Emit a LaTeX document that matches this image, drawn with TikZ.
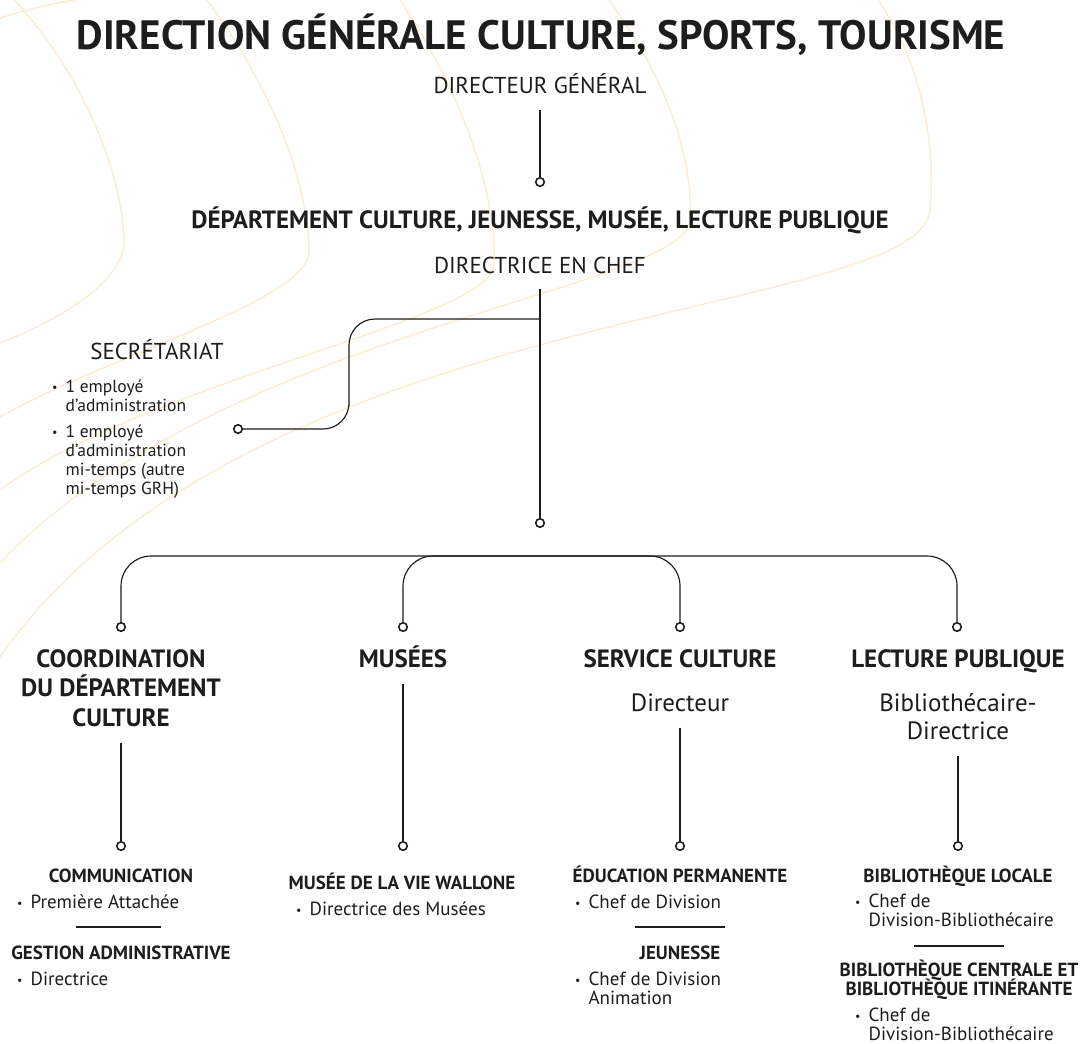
\documentclass[tikz,border=0pt]{standalone}
\usepackage{fontspec}
\setmainfont{PT Sans}
\usetikzlibrary{positioning}

\definecolor{encre}{HTML}{1D1D1B}
\definecolor{filigrane}{HTML}{FCECCF}

\newcommand{\puce}{\raisebox{0.5pt}{\fontsize{12}{12}\selectfont •}}
\newcommand{\serre}{\setlength{\lineskiplimit}{-20pt}}

\tikzset{
  titre/.style={font=\bfseries\fontsize{41}{44}\selectfont, text=encre, inner sep=0pt},
  poste/.style={font=\fontsize{23}{26}\selectfont, text=encre, inner sep=0pt},
  dept/.style={font=\bfseries\fontsize{25}{28}\selectfont, text=encre, inner sep=0pt},
  service/.style={font=\bfseries\fontsize{25}{29.5}\selectfont, text=encre, align=center, inner sep=0pt},
  fonction/.style={font=\fontsize{25}{28}\selectfont, text=encre, align=center, inner sep=0pt},
  soustitre/.style={font=\bfseries\fontsize{19}{19}\selectfont\serre, text=encre, align=center, inner sep=0pt},
  liste/.style={font=\fontsize{19}{18.5}\selectfont, text=encre, inner sep=0pt, anchor=base west},
  listesec/.style={liste, font=\fontsize{17.5}{19}\selectfont},
  pastille/.style={circle, draw=encre, line width=1.6pt, fill=white, minimum size=8.5pt, inner sep=0pt},
  lien/.style={draw=encre, line width=1.15pt},
  depart/.style={shorten <=16pt},
  filet/.style={draw=encre, line width=2.8pt},
}

\begin{document}
\begin{tikzpicture}[x=1pt, y=-1pt]
    \fill[white] (0,0) rectangle (1083,1043);
    \useasboundingbox (0,0) rectangle (1083,1043);

    % filigrane du fond
    \begin{scope}
      \clip (0,0) rectangle (1083,1043);
      \draw[filigrane, line width=1.3pt] (0,18) .. controls (25,10) and (50,4) .. (75,0);
      \draw[filigrane, line width=1.3pt] (14,0) .. controls (80,70) and (122,170) .. (124,240)
        .. controls (126,280) and (60,320) .. (0,343);
      \draw[filigrane, line width=1.3pt] (207,0) .. controls (265,80) and (307,170) .. (309,250)
        .. controls (311,300) and (120,350) .. (0,417);
      \draw[filigrane, line width=1.3pt] (400,0) .. controls (460,90) and (497,190) .. (494,265)
        .. controls (490,320) and (150,380) .. (0,490);
      \draw[filigrane, line width=1.3pt] (609,0) .. controls (660,70) and (694,150) .. (690,220)
        .. controls (686,290) and (220,330) .. (0,563);
      \draw[filigrane, line width=1.3pt] (878,0) .. controls (920,60) and (936,140) .. (930,210)
        .. controls (920,320) and (250,300) .. (0,657);
    \end{scope}

    % haut de l'organigramme
    \node[titre, anchor=base] (titre) at (541,50) {DIRECTION GÉNÉRALE CULTURE, SPORTS, TOURISME};
    \node[poste, anchor=base] (dg) at (540,94) {DIRECTEUR GÉNÉRAL};
    \node[pastille] (dg-pt) at (540,182) {};
    \draw[lien, depart] (dg) -- (dg-pt);

    \node[dept, anchor=base] (dep) at (540,228) {DÉPARTEMENT CULTURE, JEUNESSE, MUSÉE, LECTURE PUBLIQUE};
    \node[poste, anchor=base] (dec) at (540,273) {DIRECTRICE EN CHEF};
    \node[pastille] (dec-pt) at (540,523) {};
    \draw[lien, depart] (dec) -- (dec-pt);

    % secretariat
    \node[poste, anchor=base] (sec) at (157,359) {SECRÉTARIAT};
    \node[listesec] (sec-liste) at (52,392) {\begin{tabular}[t]{@{}l@{\hspace{8pt}}l@{}}
      \puce & 1 employé\\
            & d’administration\\[7pt]
      \puce & 1 employé\\
            & d’administration\\
            & mi-temps (autre\\
            & mi-temps GRH)
    \end{tabular}};
    \node[pastille] (sec-pt) at (238,429) {};
    \coordinate (embr) at (540,319);
    \coordinate (coude) at (349,380);
    \draw[lien, rounded corners=26pt] (embr) -| (coude) |- (sec-pt);

    % barre des quatre services
    \coordinate (barre) at (540,556);
    \node[pastille] (c1-pt) at (121,627) {};
    \node[pastille] (c2-pt) at (403,627) {};
    \node[pastille] (c3-pt) at (680,627) {};
    \node[pastille] (c4-pt) at (957,627) {};
    \draw[lien, rounded corners=30pt] (c1-pt) |- (barre) -| (c4-pt);
    \draw[lien, rounded corners=30pt] (c2-pt) |- (barre);
    \draw[lien, rounded corners=30pt] (c3-pt) |- (barre);

    % services
    \node[service] (coord) at (121,688) {COORDINATION\\DU DÉPARTEMENT\\CULTURE};
    \node[service, anchor=base] (musees) at (403,667) {MUSÉES};
    \node[service, anchor=base] (culture) at (680,667) {SERVICE CULTURE};
    \node[service, anchor=base] (lecture) at (958,667) {LECTURE PUBLIQUE};
    \node[fonction, anchor=base] (directeur) at (680,711) {Directeur};
    \node[fonction] (biblio) at (958,717) {Bibliothécaire-\\Directrice};

    \node[pastille] (coord-pt) at (121,846) {};
    \node[pastille] (musees-pt) at (403,846) {};
    \node[pastille] (culture-pt) at (680,846) {};
    \node[pastille] (lecture-pt) at (958,846) {};
    \draw[lien, depart] (coord) -- (coord-pt);
    \draw[lien, depart] (musees) -- (musees-pt);
    \draw[lien, depart] (directeur) -- (culture-pt);
    \draw[lien, depart] (biblio) -- (lecture-pt);

    % coordination
    \node[soustitre, anchor=base] (comm) at (121,882) {COMMUNICATION};
    \node[liste] (comm-liste) at (17,908) {\begin{tabular}[t]{@{}l@{\hspace{8pt}}l@{}}
      \puce & Première Attachée
    \end{tabular}};
    \draw[filet] (76,927) -- (161,927);
    \node[soustitre, anchor=base] (gest) at (121,959) {GESTION ADMINISTRATIVE};
    \node[liste] (gest-liste) at (17,985) {\begin{tabular}[t]{@{}l@{\hspace{8pt}}l@{}}
      \puce & Directrice
    \end{tabular}};

    % musees
    \node[soustitre, anchor=base] (mvw) at (402,889) {MUSÉE DE LA VIE WALLONE};
    \node[liste] (mvw-liste) at (296,915) {\begin{tabular}[t]{@{}l@{\hspace{8pt}}l@{}}
      \puce & Directrice des Musées
    \end{tabular}};

    % service culture
    \node[soustitre, anchor=base] (edu) at (680,882) {ÉDUCATION PERMANENTE};
    \node[liste] (edu-liste) at (575,908) {\begin{tabular}[t]{@{}l@{\hspace{8pt}}l@{}}
      \puce & Chef de Division
    \end{tabular}};
    \draw[filet] (635,927) -- (725,927);
    \node[soustitre, anchor=base] (jeun) at (680,959) {JEUNESSE};
    \node[liste] (jeun-liste) at (575,985) {\begin{tabular}[t]{@{}l@{\hspace{8pt}}l@{}}
      \puce & Chef de Division\\
            & Animation
    \end{tabular}};

    % lecture publique
    \node[soustitre, anchor=base] (bloc) at (958,882) {BIBLIOTHÈQUE LOCALE};
    \node[liste] (bloc-liste) at (855,907) {\begin{tabular}[t]{@{}l@{\hspace{8pt}}l@{}}
      \puce & Chef de\\
            & Division-Bibliothécaire
    \end{tabular}};
    \draw[filet] (914,946) -- (1004,946);
    \node[soustitre] (bcen) at (959,980) {BIBLIOTHÈQUE CENTRALE ET\\BIBLIOTHÈQUE ITINÉRANTE};
    \node[liste] (bcen-liste) at (855,1021) {\begin{tabular}[t]{@{}l@{\hspace{8pt}}l@{}}
      \puce & Chef de\\
            & Division-Bibliothécaire
    \end{tabular}};
\end{tikzpicture}
\end{document}
